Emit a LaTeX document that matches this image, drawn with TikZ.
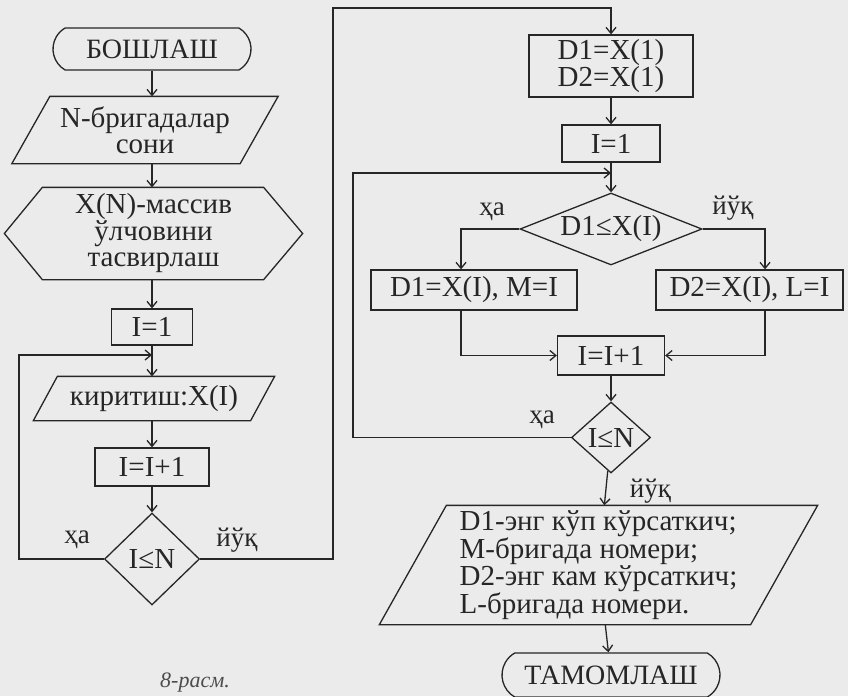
\documentclass[tikz,border=0pt]{standalone}
\usepackage{fontspec}
\setmainfont{Liberation Serif}
\usetikzlibrary{shapes.geometric,shapes.misc,arrows.meta}
\begin{document}
\begin{tikzpicture}[x=1pt,y=-1pt,line width=1.3pt,color=black!85,
  every node/.style={font=\fontsize{29}{26}\selectfont},
  term/.style={draw,rounded rectangle,rounded rectangle arc length=120,
    minimum height=42,inner sep=0,font=\fontsize{28}{28}\selectfont},
  box/.style={draw,rectangle,inner sep=0},
  ifbox/.style={draw,diamond,inner sep=0},
  frame/.style={inner sep=0,align=center},
  arr/.style={-{Straight Barb[length=6pt,width=10pt]}},
  lbl/.style={font=\fontsize{27}{27}\selectfont}]
  \fill[black!8](0,0)rectangle(848,696);
  \useasboundingbox(0,0)rectangle(848,696);
  % left column
  \node[term,minimum width=198](start) at (152,49){БОШЛАШ};
  \node[frame,minimum width=265,minimum height=66](in1) at (145,130){N-бригадалар\\сони};
  \draw([xshift=38]in1.north west)--(in1.north east)--([xshift=-38]in1.south east)--(in1.south west)--cycle;
  \node[frame,minimum width=297,minimum height=91](hex) at (153.5,233.5){X(N)-массив\\ўлчовини\\тасвирлаш};
  \draw(hex.west)--([xshift=38]hex.north west)--([xshift=-39]hex.north east)--(hex.east)
    --([xshift=-39]hex.south east)--([xshift=38]hex.south west)--cycle;
  \node[box,minimum width=81,minimum height=36](i1) at (152,327){I=1};
  \coordinate(m1) at (152,355);
  \node[frame,minimum width=240,minimum height=43](in2) at (154,398.5){киритиш:X(I)};
  \draw([xshift=24]in2.north west)--(in2.north east)--([xshift=-24]in2.south east)--(in2.south west)--cycle;
  \node[box,minimum width=114,minimum height=38](inc1) at (152,467){I=I+1};
  \node[ifbox,minimum width=95,minimum height=92](c1) at (152,559){I≤N};
  \coordinate(l1) at (19,355);
  \coordinate(t1) at (333,8);
  \draw[arr](start.south)--(start.south|-in1.north);
  \draw[arr](start.south|-in1.south)--(start.south|-hex.north);
  \draw[arr](start.south|-hex.south)--(i1.north);
  \draw[arr](i1.south)--(i1.south|-in2.north);
  \draw[arr](i1.south|-in2.south)--(inc1.north);
  \draw[arr](inc1.south)--(c1.north);
  \draw[arr](c1.west)-|(l1)--(m1);
  \node[lbl] at (77,540){ҳа};
  \node[lbl] at (237,540){йўқ};
  % right column
  \node[box,align=center,minimum width=164,minimum height=62](d12) at (611,66){D1=X(1)\\D2=X(1)};
  \node[box,minimum width=98,minimum height=37](i2) at (611,143.5){I=1};
  \coordinate(m2) at (611,173);
  \node[ifbox,aspect=2.5,minimum width=182,minimum height=72](c2) at (611,229){D1≤X(I)};
  \node[box,minimum width=206,minimum height=40](yes) at (474,290){D1=X(I), M=I};
  \node[box,minimum width=187,minimum height=40](no) at (749.5,290){D2=X(I), L=I};
  \node[box,minimum width=107,minimum height=39](inc2) at (611,355.5){I=I+1};
  \node[ifbox,minimum width=79,minimum height=71](c3) at (611,437.5){I≤N};
  \node[frame,align=left,minimum width=437,minimum height=118,font=\fontsize{29}{23}\selectfont](out) at (598.5,565)
    {D1-энг кўп кўрсаткич;\\M-бригада номери;\\D2-энг кам кўрсаткич;\\L-бригада номери.};
  \draw([xshift=67]out.north west)--(out.north east)--([xshift=-67]out.south east)--(out.south west)--cycle;
  \node[term,minimum width=218,minimum height=44](stop) at (611,675){ТАМОМЛАШ};
  \coordinate(b1) at (461,290);
  \coordinate(b2) at (765,290);
  \coordinate(l2) at (353,173);
  \draw[arr](c1.east)-|(t1)-|(d12.north);
  \draw[arr](d12)--(i2);
  \draw[arr](i2)--(c2);
  \draw[arr](c2.west)-|(b1|-yes.north);
  \draw[arr](c2.east)-|(b2|-no.north);
  \draw[arr](b1|-yes.south)|-(inc2.west);
  \draw[arr](b2|-no.south)|-(inc2.east);
  \draw[arr](inc2)--(c3);
  \draw[arr](c3.west)-|(l2)--(m2);
  \draw[arr](c3)--(out);
  \draw[arr](out)--(stop);
  \node[lbl] at (492,212){ҳа};
  \node[lbl] at (733,208){йўқ};
  \node[lbl] at (542,420){ҳа};
  \node[lbl,anchor=west] at (626,491){йўқ};
  \node[font=\fontsize{22}{22}\selectfont\itshape,text=black!70](cap) at (195,683){8-расм.};
\end{tikzpicture}
\end{document}
